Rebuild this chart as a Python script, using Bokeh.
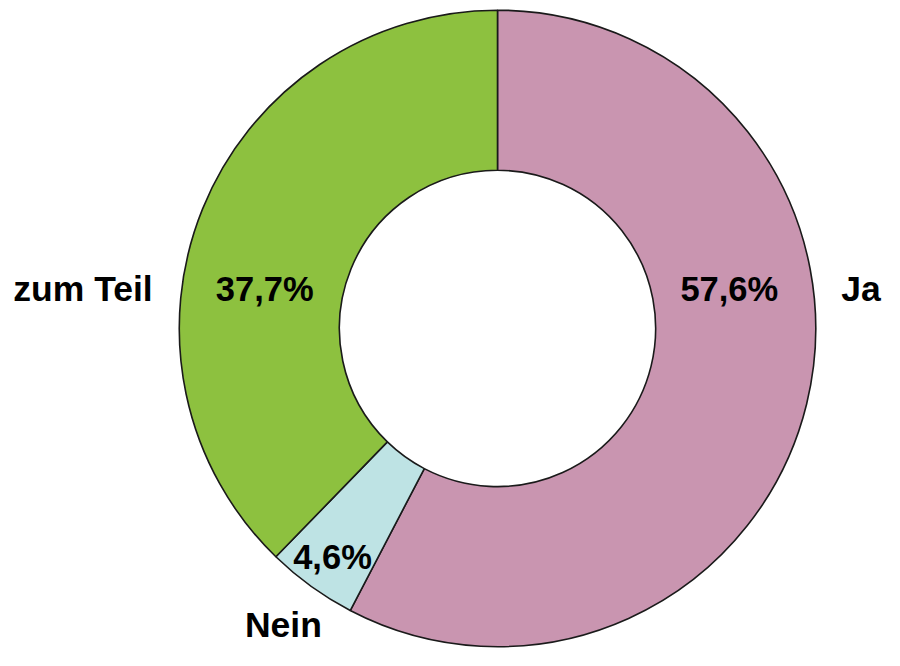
import numpy as np
from bokeh.plotting import figure
from bokeh.models import Range1d
from bokeh.core.properties import value
from bokeh.embed import file_html
from bokeh.resources import INLINE

categories = ["Ja", "Nein", "zum Teil"]
shares = [57.6, 4.6, 37.7]
pct_labels = ["57,6%", "4,6%", "37,7%"]
colors = ["#C995B0", "#BEE3E4", "#8DC13F"]

W, H = 884, 650
# data coordinates = reference picture pixels (900 x 666), y measured upward
p = figure(width=W, height=H, output_backend="svg", toolbar_location=None,
           x_range=Range1d(0, 900), y_range=Range1d(0, 666),
           min_border=0, outline_line_color=None)
p.axis.visible = False
p.grid.visible = False
p.background_fill_color = "white"
p.border_fill_color = "white"

cx, cy = 506, 666 - 336
r_out, r_in = 324, 161

frac = np.array(shares) / np.sum(shares)
cum = np.concatenate([[0], np.cumsum(frac)])
starts = np.pi / 2 - cum[:-1] * 2 * np.pi
ends = np.pi / 2 - cum[1:] * 2 * np.pi

p.annular_wedge(x=cx, y=cy, inner_radius=r_in, outer_radius=r_out,
                start_angle=list(starts), end_angle=list(ends), direction="clock",
                fill_color=colors, line_color="#1a1a1a", line_width=1.6)

pct_x = [742, 338, 269]
pct_y = [666 - 296, 666 - 570, 666 - 296]
p.text(x=pct_x, y=pct_y, text=pct_labels, text_font=value("Liberation Sans"),
       text_font_style="bold", text_font_size="34.5px", text_align="center",
       text_baseline="middle", text_color="black")

cat_x = [876, 288, 84]
cat_y = [666 - 296, 666 - 640, 666 - 296]
p.text(x=cat_x, y=cat_y, text=categories, text_font=value("Liberation Sans"),
       text_font_style="bold", text_font_size="35.5px", text_align="center",
       text_baseline="middle", text_color="black")

open("out.html", "w").write(file_html(p, INLINE))
